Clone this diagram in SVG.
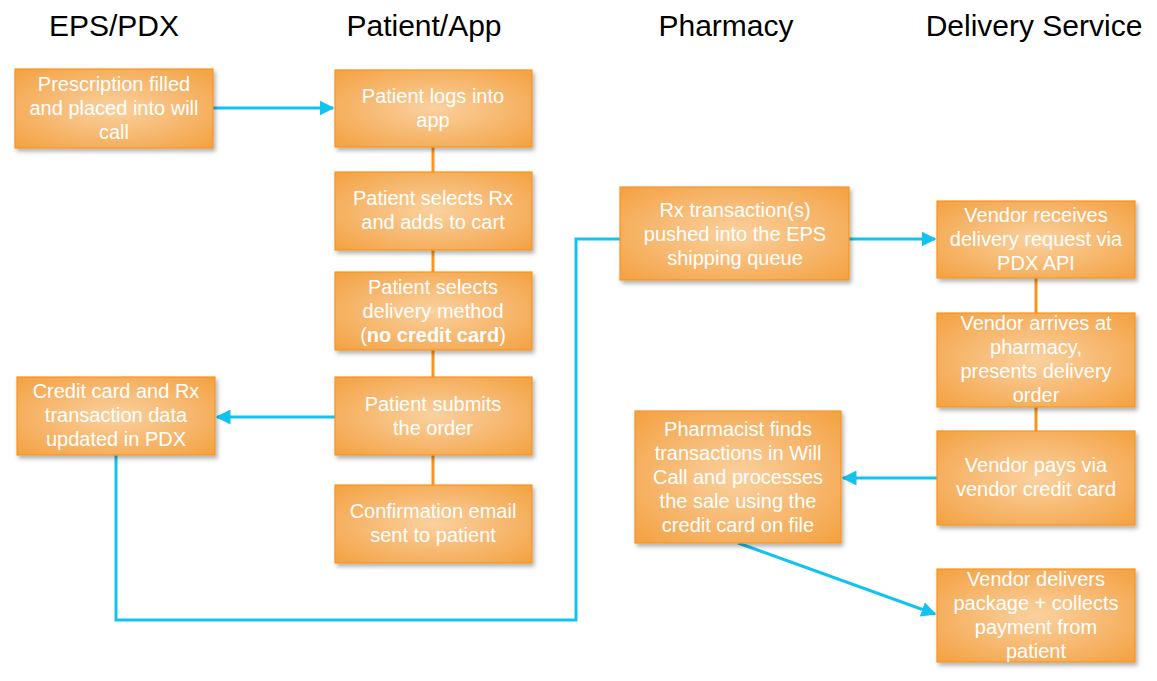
<svg xmlns="http://www.w3.org/2000/svg" width="1157" height="681" viewBox="0 0 1157 681">
<defs>
<radialGradient id="g" cx="50%" cy="50%" r="70%">
<stop offset="0" stop-color="#FAD19F"/>
<stop offset="0.6" stop-color="#F6B468"/>
<stop offset="1" stop-color="#F4A140"/>
</radialGradient>
<filter id="sh" x="-10%" y="-10%" width="130%" height="130%">
<feDropShadow dx="2" dy="3" stdDeviation="2" flood-color="#000" flood-opacity="0.3"/>
</filter>
<marker id="ar" viewBox="0 0 10 10" refX="9" refY="5" markerWidth="5" markerHeight="5" orient="auto">
<path d="M0,0 L10,5 L0,10 z" fill="#12C3F0"/>
</marker>
</defs>
<style>
.box{fill:url(#g);stroke:#F7951D;stroke-width:1.2;filter:url(#sh)}
.t{font-family:"Liberation Sans",Arial,sans-serif;font-size:20px;fill:#fff;text-anchor:middle}
.h{font-family:"Liberation Sans",Arial,sans-serif;font-size:30px;fill:#000;text-anchor:middle}
.c{fill:none;stroke:#12C3F0;stroke-width:3}
.o{fill:none;stroke:#F7951D;stroke-width:3}
</style>
<rect width="1157" height="681" fill="#fff"/>
<g id="headers">
<text class="h" x="114" y="36">EPS/PDX</text>
<text class="h" x="424" y="36">Patient/App</text>
<text class="h" x="726" y="36">Pharmacy</text>
<text class="h" x="1034" y="36">Delivery Service</text>
</g>
<g id="connectors">
<line class="o" x1="433" y1="147" x2="433" y2="172"/>
<line class="o" x1="433" y1="250" x2="433" y2="272"/>
<line class="o" x1="433" y1="350" x2="433" y2="377"/>
<line class="o" x1="433" y1="455" x2="433" y2="485"/>
<line class="o" x1="1036" y1="278" x2="1036" y2="313"/>
<line class="o" x1="1036" y1="407" x2="1036" y2="431"/>
<line class="c" x1="213" y1="108" x2="333" y2="108" marker-end="url(#ar)"/>
<line class="c" x1="335" y1="417" x2="217" y2="417" marker-end="url(#ar)"/>
<polyline class="c" points="116,455 116,620 576,620 576,239 620,239"/>
<line class="c" x1="849" y1="239" x2="935" y2="239" marker-end="url(#ar)"/>
<line class="c" x1="937" y1="478" x2="843" y2="478" marker-end="url(#ar)"/>
<line class="c" x1="738" y1="543" x2="935" y2="614" marker-end="url(#ar)"/>
</g>
<g id="n1"><rect class="box" x="15" y="69" width="198" height="79"/>
<text class="t" x="114" y="91">Prescription filled</text><text class="t" x="114" y="115">and placed into will</text><text class="t" x="114" y="139">call</text></g>
<g id="n2"><rect class="box" x="335" y="70" width="197" height="77"/>
<text class="t" x="433" y="103">Patient logs into</text><text class="t" x="433" y="127">app</text></g>
<g id="n3"><rect class="box" x="335" y="172" width="197" height="78"/>
<text class="t" x="433" y="205">Patient selects Rx</text><text class="t" x="433" y="229">and adds to cart</text></g>
<g id="n4"><rect class="box" x="335" y="272" width="197" height="78"/>
<text class="t" x="433" y="294">Patient selects</text><text class="t" x="433" y="318">delivery method</text><text class="t" x="433" y="342">(<tspan font-weight="bold">no credit card</tspan>)</text></g>
<g id="n5"><rect class="box" x="335" y="377" width="197" height="78"/>
<text class="t" x="433" y="411">Patient submits</text><text class="t" x="433" y="435">the order</text></g>
<g id="n6"><rect class="box" x="335" y="485" width="197" height="78"/>
<text class="t" x="433" y="518">Confirmation email</text><text class="t" x="433" y="542">sent to patient</text></g>
<g id="n7"><rect class="box" x="17" y="377" width="198" height="78"/>
<text class="t" x="116" y="398">Credit card and Rx</text><text class="t" x="116" y="422">transaction data</text><text class="t" x="116" y="446">updated in PDX</text></g>
<g id="n8"><rect class="box" x="620" y="187" width="229" height="93"/>
<text class="t" x="735" y="217">Rx transaction(s)</text><text class="t" x="735" y="241">pushed into the EPS</text><text class="t" x="735" y="265">shipping queue</text></g>
<g id="n9"><rect class="box" x="937" y="201" width="198" height="77"/>
<text class="t" x="1036" y="222">Vendor receives</text><text class="t" x="1036" y="246">delivery request via</text><text class="t" x="1036" y="270">PDX API</text></g>
<g id="n10"><rect class="box" x="937" y="313" width="198" height="94"/>
<text class="t" x="1036" y="330">Vendor arrives at</text><text class="t" x="1036" y="354">pharmacy,</text><text class="t" x="1036" y="378">presents delivery</text><text class="t" x="1036" y="402">order</text></g>
<g id="n11"><rect class="box" x="937" y="431" width="198" height="94"/>
<text class="t" x="1036" y="472">Vendor pays via</text><text class="t" x="1036" y="496">vendor credit card</text></g>
<g id="n12"><rect class="box" x="635" y="411" width="206" height="132"/>
<text class="t" x="738" y="436">Pharmacist finds</text><text class="t" x="738" y="460">transactions in Will</text><text class="t" x="738" y="484">Call and processes</text><text class="t" x="738" y="508">the sale using the</text><text class="t" x="738" y="532">credit card on file</text></g>
<g id="n13"><rect class="box" x="937" y="569" width="198" height="93"/>
<text class="t" x="1036" y="586">Vendor delivers</text><text class="t" x="1036" y="610">package + collects</text><text class="t" x="1036" y="634">payment from</text><text class="t" x="1036" y="658">patient</text></g>
</svg>
